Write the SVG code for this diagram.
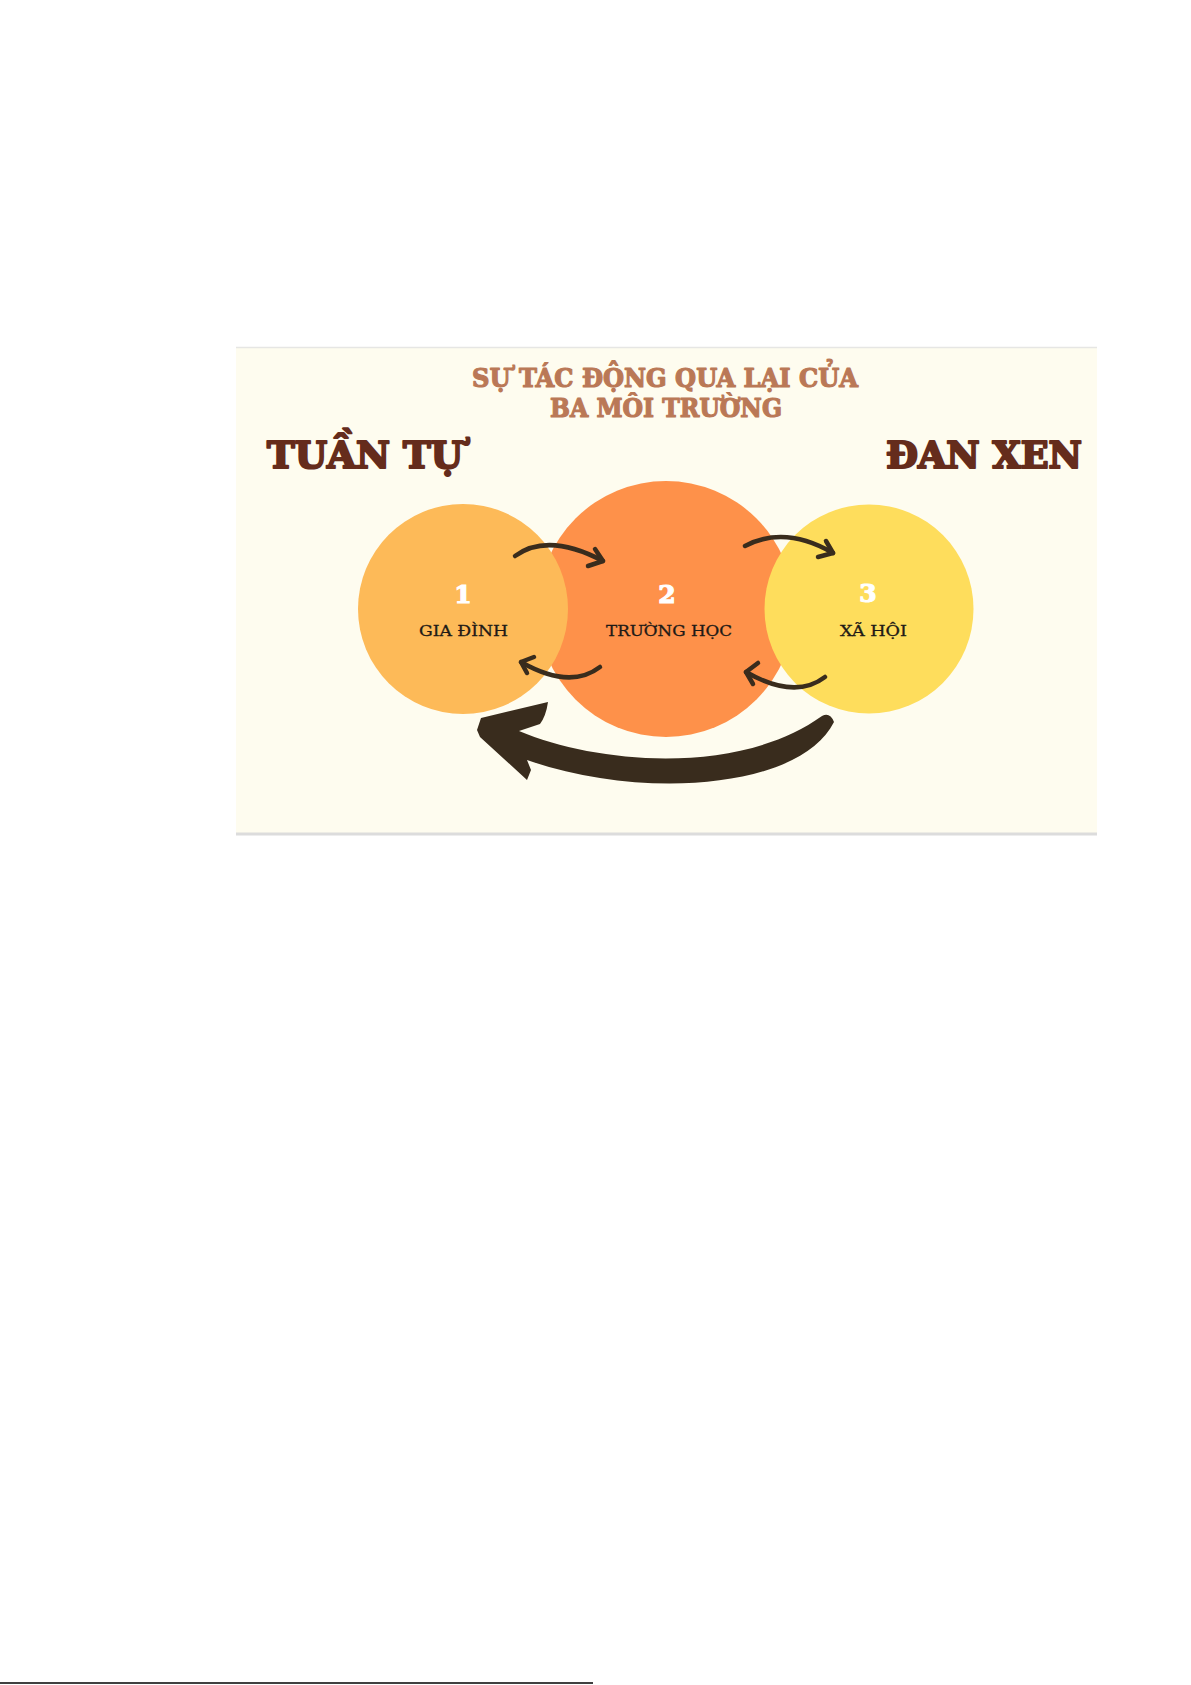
<svg xmlns="http://www.w3.org/2000/svg" width="1191" height="1685" viewBox="0 0 1191 1685">
  <defs>
    <style>
      .heading { font-family: "DejaVu Serif", "Liberation Serif", serif; font-weight: bold; stroke-linejoin: round; }
      .title { fill: #BA7856; stroke: #BA7856; stroke-width: 1.2px; font-size: 26px; }
      .big { fill: #652C1C; stroke: #652C1C; stroke-width: 2.2px; font-size: 38px; }
      .num { fill: #FFFFFF; stroke: #FFFFFF; stroke-width: 1.2px; font-size: 25px; font-family: "DejaVu Serif", "Liberation Serif", serif; font-weight: bold; }
      .label { fill: #1E1A16; stroke: #1E1A16; stroke-width: 0.3px; font-size: 14px; font-family: "DejaVu Serif", "Liberation Serif", serif; }
      .arc { fill: none; stroke: #392C1D; stroke-width: 4.5; stroke-linecap: round; stroke-linejoin: round; }
    </style>
  </defs>
  <rect width="1191" height="1685" fill="#FFFFFF"/>

  <g id="panel">
    <rect x="236" y="347" width="861" height="488" fill="#FEFCEF"/>
    <line x1="236" y1="347.5" x2="1097" y2="347.5" stroke="#E6E6E4" stroke-width="1.5"/>
    <line x1="236" y1="834" x2="1097" y2="834" stroke="#DCDCDC" stroke-width="3"/>
  </g>

  <g id="title">
    <text class="heading title" x="665" y="387" text-anchor="middle" textLength="386" lengthAdjust="spacingAndGlyphs">SỰ TÁC ĐỘNG QUA LẠI CỦA</text>
    <text class="heading title" x="666" y="417" text-anchor="middle" textLength="232" lengthAdjust="spacingAndGlyphs">BA MÔI TRƯỜNG</text>
  </g>

  <g id="tuan-tu">
    <text class="heading big" x="267" y="468" textLength="196" lengthAdjust="spacingAndGlyphs">TUẦN TỰ</text>
  </g>
  <g id="dan-xen">
    <text class="heading big" x="886" y="468" textLength="196" lengthAdjust="spacingAndGlyphs">ĐAN XEN</text>
  </g>

  <g id="node-2-shape">
    <circle cx="666" cy="609" r="128" fill="#FE914A"/>
  </g>
  <g id="node-1">
    <circle cx="463" cy="609" r="105" fill="#FDBA58"/>
    <text class="num" x="463" y="603" text-anchor="middle">1</text>
    <text class="label" x="463.5" y="636" text-anchor="middle" textLength="89" lengthAdjust="spacingAndGlyphs">GIA ĐÌNH</text>
  </g>
  <g id="node-3">
    <circle cx="869" cy="609" r="104.5" fill="#FEDD5C"/>
    <text class="num" x="868" y="602" text-anchor="middle">3</text>
    <text class="label" x="873.5" y="636" text-anchor="middle" textLength="67" lengthAdjust="spacingAndGlyphs">XÃ HỘI</text>
  </g>
  <g id="node-2">
    <text class="num" x="667" y="603" text-anchor="middle">2</text>
    <text class="label" x="669" y="636" text-anchor="middle" textLength="126" lengthAdjust="spacingAndGlyphs">TRƯỜNG HỌC</text>
  </g>

  <g id="connectors">
    <path class="arc" d="M515,556 Q548,532 603,561"/>
    <path class="arc" d="M595,549 L603,561 L588,566"/>
    <path class="arc" d="M600,667 Q570,690 521,662"/>
    <path class="arc" d="M534,657 L521,662 L527,673"/>
    <path class="arc" d="M745,546 Q785,525 833,553"/>
    <path class="arc" d="M826,541 L833,553 L818,557"/>
    <path class="arc" d="M825,677 Q795,700 746,672"/>
    <path class="arc" d="M758,663 L746,672 L753,684"/>
    <path fill="#392C1D" d="M477,730 L481,718 L548,702 Q546,716 540,724 L519,731 C600,765 740,775 822,716 Q830,712 834,722 C800,790 640,800 527,760 L531,770 L527,780 L480,737 Z"/>
  </g>

  <g id="footer">
    <line x1="0" y1="1683" x2="593" y2="1683" stroke="#000000" stroke-width="1.5"/>
  </g>
</svg>
